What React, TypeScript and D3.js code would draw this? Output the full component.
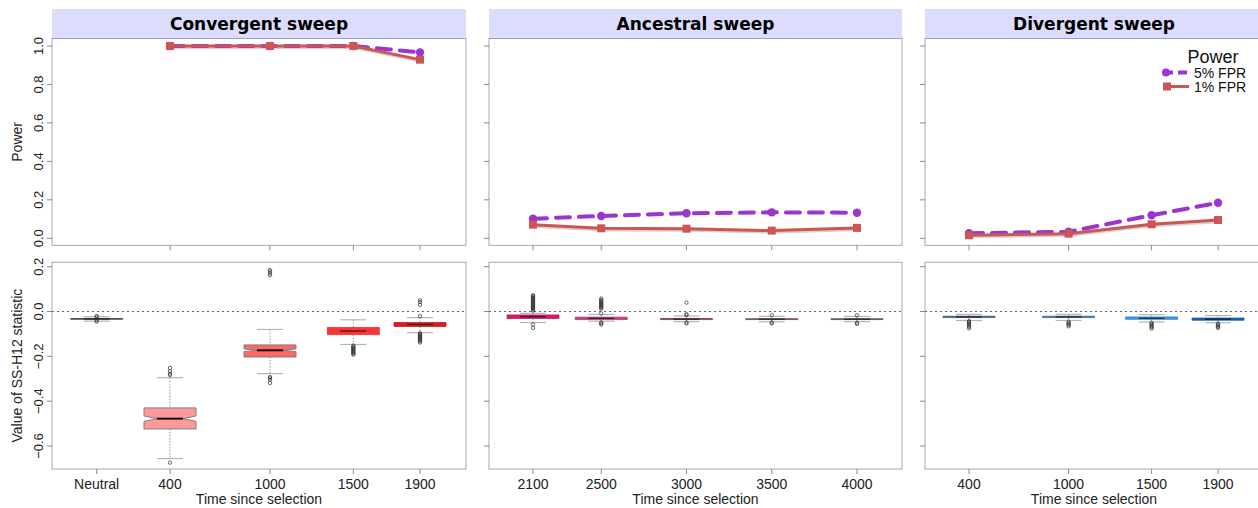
import React from "react";
import * as d3 from "d3";

// ---------- DATA ----------
const panelTitles = ["Convergent sweep", "Ancestral sweep", "Divergent sweep"];

// Convergent sweep
const convLabels = ["Neutral", "400", "1000", "1500", "1900"];
const convPos = [-40, 400, 1000, 1500, 1900];
const convPowerTimes = [400, 1000, 1500, 1900];
const convPower5 = [1.0, 1.0, 1.0, 0.967];
const convPower1 = [1.0, 1.0, 1.0, 0.929];
// [lowWhisker, q1, median, q3, highWhisker, notchHalf]
const convStats = [
  [-0.043, -0.035, -0.033, -0.031, -0.023, 0.001],
  [-0.656, -0.524, -0.478, -0.43, -0.295, 0.012],
  [-0.277, -0.203, -0.173, -0.149, -0.08, 0.006],
  [-0.147, -0.103, -0.087, -0.071, -0.037, 0.003],
  [-0.094, -0.067, -0.058, -0.049, -0.027, 0.002],
];
const convOutliers = [
  [-0.02, -0.025, -0.04, -0.045],
  [-0.252, -0.266, -0.277, -0.283, -0.674],
  [0.185, 0.178, 0.17, 0.162, -0.292, -0.298, -0.304, -0.319],
  [-0.152, -0.156, -0.16, -0.164, -0.168, -0.172, -0.176, -0.18, -0.184, -0.188, -0.192],
  [0.05, 0.042, 0.03, -0.021, -0.097, -0.1, -0.104, -0.108, -0.112, -0.116, -0.12, -0.124, -0.128, -0.133, -0.138],
];
const convColors = ["#4a4a4a", "#FF9999", "#FF6666", "#FF3333", "#E3191C"];

// Ancestral sweep
const ancLabels = ["2100", "2500", "3000", "3500", "4000"];
const ancPos = [2100, 2500, 3000, 3500, 4000];
const ancPower5 = [0.102, 0.116, 0.13, 0.135, 0.133];
const ancPower1 = [0.071, 0.052, 0.05, 0.04, 0.054];
const ancStats = [
  [-0.049, -0.031, -0.023, -0.015, -0.008, 0.001],
  [-0.043, -0.036, -0.03, -0.025, -0.013, 0.001],
  [-0.045, -0.036, -0.034, -0.031, -0.02, 0.001],
  [-0.046, -0.036, -0.034, -0.032, -0.021, 0.001],
  [-0.045, -0.036, -0.034, -0.032, -0.022, 0.001],
];
const ancOutliers = [
  [0.004, 0.008, 0.012, 0.016, 0.02, 0.024, 0.028, 0.032, 0.036, 0.04, 0.044, 0.048, 0.052, 0.056, 0.06, 0.064, 0.068, 0.073, -0.058, -0.073],
  [0.013, 0.017, 0.021, 0.025, 0.03, 0.034, 0.038, 0.043, 0.047, 0.052, 0.058, -0.008, -0.049, -0.053, -0.058],
  [0.04, -0.012, -0.016, -0.049, -0.053],
  [-0.016, -0.049, -0.053],
  [-0.017, -0.05, -0.055],
];
const ancColors = ["#E0166C", "#C23E80", "#8E3A64", "#74465E", "#62505A"];

// Divergent sweep
const divLabels = ["400", "1000", "1500", "1900"];
const divPos = [400, 1000, 1500, 1900];
const divPower5 = [0.026, 0.034, 0.12, 0.185];
const divPower1 = [0.016, 0.024, 0.073, 0.095];
const divStats = [
  [-0.04, -0.027, -0.024, -0.021, -0.013, 0.001],
  [-0.04, -0.027, -0.024, -0.021, -0.013, 0.001],
  [-0.047, -0.035, -0.03, -0.024, -0.014, 0.001],
  [-0.05, -0.039, -0.034, -0.029, -0.018, 0.001],
];
const divOutliers = [
  [-0.043, -0.047, -0.052, -0.057, -0.062, -0.068, -0.075],
  [-0.045, -0.05, -0.055, -0.06, -0.066],
  [-0.05, -0.055, -0.06, -0.065, -0.07, -0.076],
  [-0.053, -0.058, -0.063, -0.068, -0.073],
];
const divColors = ["#4A6684", "#3B74B5", "#3A9AF0", "#1565C0"];

const powerTicks = [0, 0.2, 0.4, 0.6, 0.8, 1.0];
const statTicks = [-0.6, -0.4, -0.2, 0.0, 0.2];
const legendLabels = ["5% FPR", "1% FPR"];

// ---------- LAYOUT ----------
const W = 1258;
const H = 508;
const FONT = "'Liberation Sans', Arial, sans-serif";
const headerTop = 9;
const headerBottom = 38.5;
const topBottom = 245.3;
const botTop = 262.3;
const botBottom = 469;
const boxW = 52;

const yPower = d3.scaleLinear().domain([0, 1]).range([238.3, 46]);
const yStat = d3.scaleLinear().domain([-0.6, 0.2]).range([446, 266.7]);

const fmt = (v: number) => {
  const s = d3.format(".1f")(Math.abs(v));
  return v < -1e-9 ? "\u2212" + s : s;
};

type Panel = {
  title: string;
  left: number;
  right: number;
  x: d3.ScaleLinear<number, number>;
  labels: string[];
  pos: number[];
  powerTimes: number[];
  p5: number[];
  p1: number[];
  stats: number[][];
  outliers: number[][];
  colors: string[];
  showY: boolean;
};

const panels: Panel[] = [
  {
    title: panelTitles[0], left: 52, right: 466,
    x: d3.scaleLinear().domain([400, 1900]).range([170, 420]),
    labels: convLabels, pos: convPos, powerTimes: convPowerTimes,
    p5: convPower5, p1: convPower1, stats: convStats, outliers: convOutliers,
    colors: convColors, showY: true,
  },
  {
    title: panelTitles[1], left: 489, right: 902,
    x: d3.scaleLinear().domain([2100, 4000]).range([533, 857]),
    labels: ancLabels, pos: ancPos, powerTimes: ancPos,
    p5: ancPower5, p1: ancPower1, stats: ancStats, outliers: ancOutliers,
    colors: ancColors, showY: false,
  },
  {
    title: panelTitles[2], left: 925, right: 1263,
    x: d3.scaleLinear().domain([400, 1900]).range([969, 1218]),
    labels: divLabels, pos: divPos, powerTimes: divPos,
    p5: divPower5, p1: divPower1, stats: divStats, outliers: divOutliers,
    colors: divColors, showY: false,
  },
];

const PURPLE = "#9A35CF";
const RED = "#CD5555";

function BoxPlot({ cx, s, out, color }: { cx: number; s: number[]; out: number[]; color: string }) {
  const [lo, q1, med, q3, hi, nh] = s;
  const hw = boxW / 2;
  const nw = hw / 2;
  const yq1 = yStat(q1), yq3 = yStat(q3), ym = yStat(med);
  const thin = yq1 - yq3 < 8;
  const yn1 = Math.min(yStat(med - nh), yq1);
  const yn2 = Math.max(yStat(med + nh), yq3);
  const pts: [number, number][] = thin
    ? [[cx - hw, yq3], [cx - hw, yq1], [cx + hw, yq1], [cx + hw, yq3]]
    : [
        [cx - hw, yq3], [cx - hw, yn2], [cx - nw, ym], [cx - hw, yn1], [cx - hw, yq1],
        [cx + hw, yq1], [cx + hw, yn1], [cx + nw, ym], [cx + hw, yn2], [cx + hw, yq3],
      ];
  const capW = hw / 2;
  const stroke = thin ? d3.color(color)!.darker(0.7).formatHex() : "#808080";
  return (
    <g>
      <line x1={cx} x2={cx} y1={yStat(hi)} y2={yq3} stroke="#999" strokeWidth={1} strokeDasharray="1.5,1.5" />
      <line x1={cx} x2={cx} y1={yq1} y2={yStat(lo)} stroke="#999" strokeWidth={1} strokeDasharray="1.5,1.5" />
      <line x1={cx - capW} x2={cx + capW} y1={yStat(hi)} y2={yStat(hi)} stroke="#b5b5b5" strokeWidth={1.2} />
      <line x1={cx - capW} x2={cx + capW} y1={yStat(lo)} y2={yStat(lo)} stroke="#b5b5b5" strokeWidth={1.2} />
      {out.map((v, i) => (
        <circle key={i} cx={cx} cy={yStat(v)} r={1.7} fill="none" stroke="#333" strokeWidth={0.9} opacity={0.8} />
      ))}
      <polygon points={pts.map((p) => p.join(",")).join(" ")} fill={color} stroke={stroke} strokeWidth={thin ? 0.7 : 1} />
      <line x1={cx - nw} x2={cx + nw} y1={ym} y2={ym} stroke="#111" strokeWidth={thin ? 1.3 : 2} opacity={thin ? 0.75 : 1} />
    </g>
  );
}

function PanelView({ p }: { p: Panel }) {
  const line = d3.line<[number, number]>().x((d) => d[0]).y((d) => d[1]);
  const l5 = p.powerTimes.map((t, i) => [p.x(t), yPower(p.p5[i])] as [number, number]);
  const l1 = p.powerTimes.map((t, i) => [p.x(t), yPower(p.p1[i])] as [number, number]);
  const cxText = (p.left + p.right) / 2;
  return (
    <g>
      {/* header strip */}
      <rect x={p.left} y={headerTop} width={p.right - p.left} height={headerBottom - headerTop} fill="#DCDCFC" />
      <text x={cxText} y={(headerTop + headerBottom) / 2 + 1}
        textAnchor="middle" dominantBaseline="middle" fontFamily="'DejaVu Sans', sans-serif" fontWeight="bold" fontSize={17} fill="#000">
        {p.title}
      </text>
      {/* top panel frame */}
      <rect x={p.left} y={headerBottom} width={p.right - p.left} height={topBottom - headerBottom} fill="white" stroke="#a8a8a8" strokeWidth={1} />
      <line x1={p.left} x2={p.right} y1={headerBottom} y2={headerBottom} stroke="#9a9ade" strokeWidth={1} />
      {/* bottom panel frame */}
      <rect x={p.left} y={botTop} width={p.right - p.left} height={botBottom - botTop} fill="white" stroke="#a8a8a8" strokeWidth={1} />
      {/* y ticks */}
      {powerTicks.map((t) => (
        <g key={"pt" + t}>
          <line x1={p.left - 5} x2={p.left} y1={yPower(t)} y2={yPower(t)} stroke="#888" />
          {p.showY && (
            <text transform={`translate(38,${yPower(t)}) rotate(-90)`} textAnchor="middle" dominantBaseline="central"
              fontFamily={FONT} fontSize={13} fill="#222">{fmt(t)}</text>
          )}
        </g>
      ))}
      {statTicks.map((t) => (
        <g key={"st" + t}>
          <line x1={p.left - 5} x2={p.left} y1={yStat(t)} y2={yStat(t)} stroke="#888" />
          {p.showY && (
            <text transform={`translate(38,${yStat(t)}) rotate(-90)`} textAnchor="middle" dominantBaseline="central"
              fontFamily={FONT} fontSize={13} fill="#222">{fmt(t)}</text>
          )}
        </g>
      ))}
      {/* x ticks */}
      {p.pos.map((v, i) => (
        <g key={"xt" + i}>
          {i > 0 || p.labels[0] !== "Neutral" ? (
            <line x1={p.x(v)} x2={p.x(v)} y1={topBottom} y2={topBottom + 5} stroke="#888" />
          ) : null}
          <line x1={p.x(v)} x2={p.x(v)} y1={botBottom} y2={botBottom + 5} stroke="#888" />
          <text x={p.x(v)} y={484} textAnchor="middle" dominantBaseline="central" fontFamily={FONT} fontSize={14} fill="#222">
            {p.labels[i]}
          </text>
        </g>
      ))}
      <text x={cxText} y={499} textAnchor="middle" dominantBaseline="central" fontFamily={FONT} fontSize={14} fill="#222">
        Time since selection
      </text>
      {/* zero line */}
      <line x1={p.left} x2={Math.min(p.right, W)} y1={yStat(0)} y2={yStat(0)} stroke="#666" strokeWidth={1} strokeDasharray="2,3" />
      {/* boxplots */}
      {p.stats.map((s, i) => (
        <BoxPlot key={"b" + i} cx={p.x(p.pos[i])} s={s} out={p.outliers[i]} color={p.colors[i]} />
      ))}
      {/* power lines */}
      <path d={line(l1.map((d) => [d[0] + 0.8, d[1] + 1.6]))!} fill="none" stroke="#999" strokeWidth={3} opacity={0.45} />
      <path d={line(l5)!} fill="none" stroke={PURPLE} strokeWidth={4} strokeDasharray="14,9" strokeLinecap="round" />
      {l5.map((d, i) => (
        <circle key={"c" + i} cx={d[0]} cy={d[1]} r={4.2} fill={PURPLE} />
      ))}
      <path d={line(l1)!} fill="none" stroke={RED} strokeWidth={3} />
      {l1.map((d, i) => (
        <rect key={"s" + i} x={d[0] - 4} y={d[1] - 4} width={8} height={8} fill={RED} />
      ))}
    </g>
  );
}

export default function App() {
  return (
    <svg width={W} height={H} style={{ position: "absolute", left: 0, top: 0, background: "white" }}>
      <rect x={0} y={0} width={W} height={H} fill="white" />
      {panels.map((p, i) => (
        <PanelView key={i} p={p} />
      ))}
      {/* y axis titles */}
      <text transform={`translate(17,${(headerBottom + topBottom) / 2}) rotate(-90)`} textAnchor="middle" dominantBaseline="central"
        fontFamily={FONT} fontSize={14} fill="#222">Power</text>
      <text transform={`translate(17,${(botTop + botBottom) / 2}) rotate(-90)`} textAnchor="middle" dominantBaseline="central"
        fontFamily={FONT} fontSize={14} fill="#222">Value of SS-H12 statistic</text>
      {/* legend */}
      <text x={1213} y={57} textAnchor="middle" dominantBaseline="central" fontFamily={FONT} fontSize={18} fill="#111">Power</text>
      <line x1={1164} x2={1190} y1={72.5} y2={72.5} stroke={PURPLE} strokeWidth={4} strokeDasharray="9,5" />
      <circle cx={1166} cy={72.5} r={4} fill={PURPLE} />
      <text x={1194} y={72.5} dominantBaseline="central" fontFamily={FONT} fontSize={14} fill="#111">{legendLabels[0]}</text>
      <line x1={1164} x2={1189} y1={86.5} y2={86.5} stroke={RED} strokeWidth={3} />
      <rect x={1163} y={82.5} width={8} height={8} fill={RED} />
      <text x={1194} y={86.5} dominantBaseline="central" fontFamily={FONT} fontSize={14} fill="#111">{legendLabels[1]}</text>
    </svg>
  );
}
